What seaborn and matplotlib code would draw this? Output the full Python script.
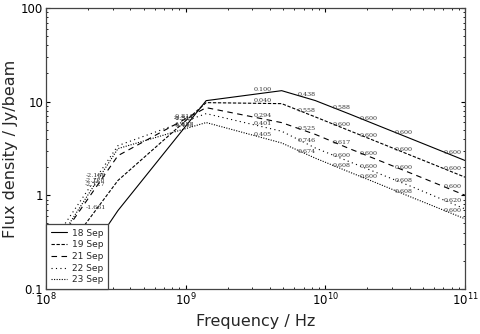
import numpy as np
import pandas as pd
import matplotlib
matplotlib.use("Agg")
import matplotlib.pyplot as plt
import seaborn as sns

# frequencies (GHz) of the model spectrum
freq_ghz = [0.074, 0.327, 1.4, 4.86, 8.46, 15.0, 22.5, 43.0, 100.0]

# flux densities (Jy/beam)
sep18 = [0.026, 0.687, 10.25, 13.1, 10.27, 7.34, 5.75, 3.90, 2.35]
sep19 = [0.074, 1.44, 9.76, 9.52, 6.87, 4.87, 3.82, 2.59, 1.56]
sep21 = [0.109, 2.65, 8.63, 5.97, 4.47, 3.13, 2.46, 1.67, 1.00]
sep22 = [0.129, 3.39, 7.45, 4.83, 3.20, 2.27, 1.78, 1.21, 0.714]
sep23 = [0.103, 3.15, 5.98, 3.62, 2.49, 1.76, 1.38, 0.93, 0.56]

# spectral index labels on each segment
idx18 = ["-2.200", "-1.857", "0.100", "0.438", "0.588", "0.600", "0.600", "0.600"]
idx19 = ["-1.661", "-1.315", "0.040", "0.558", "0.600", "0.600", "0.600", "0.600"]
idx21 = ["-2.127", "-0.811", "0.294", "0.525", "0.617", "0.600", "0.600", "0.600"]
idx22 = ["-2.186", "-0.541", "0.401", "0.746", "0.600", "0.600", "0.608", "0.620"]
idx23 = ["-2.128", "-0.440", "0.405", "0.674", "0.608", "0.600", "0.608", "0.600"]

dates = ["18 Sep", "19 Sep", "21 Sep", "22 Sep", "23 Sep"]
fluxes = [sep18, sep19, sep21, sep22, sep23]
labels = [idx18, idx19, idx21, idx22, idx23]
styles = ["-", (0, (3, 1.5)), (0, (5, 4)), (0, (1, 3)), (0, (1, 1.3))]

sns.set_style("ticks")
plt.rcParams["font.family"] = ["DejaVu Sans"]

fig = plt.figure(figsize=(4.8, 3.34), dpi=100)
ax = fig.add_axes([0.096, 0.135, 0.873, 0.841])

freq_hz = np.array(freq_ghz) * 1e9
for d, s, ls in zip(dates, fluxes, styles):
    sns.lineplot(x=freq_hz, y=s, ax=ax, color="k", linestyle=ls, linewidth=0.8,
                 label=d, sort=False)

ax.set_xscale("log")
ax.set_yscale("log")
ax.set_xlim(1e8, 1e11)
ax.set_ylim(0.1, 100)

# spectral index annotations, 3/4 of the way along each segment
for s, labs in zip(fluxes, labels):
    for i, t in enumerate(labs):
        xm = freq_hz[i] ** 0.25 * freq_hz[i + 1] ** 0.75
        ym = s[i] ** 0.25 * s[i + 1] ** 0.75
        if xm < 1e8:
            continue
        ax.annotate(t, (xm, ym), xytext=(0, 0.5), textcoords="offset points",
                    ha="center", va="bottom", fontsize=4.6, color="#333333",
                    family="DejaVu Serif", zorder=3, annotation_clip=True)

ax.set_yticks([0.1, 1, 10, 100])
ax.set_yticklabels(["0.1", "1", "10", "100"])
ax.tick_params(which="both", direction="in", top=True, right=True,
               labelsize=8.5, colors="k", pad=2)
ax.tick_params(which="major", length=3)
ax.tick_params(which="minor", length=1.5)
for sp in ax.spines.values():
    sp.set_linewidth(0.9)
    sp.set_color("#444444")

ax.set_xlabel("Frequency / Hz", fontsize=11.5, labelpad=4)
ax.set_ylabel("Flux density / Jy/beam", fontsize=11.5, labelpad=2)

leg = ax.legend(loc="lower left", fontsize=6.5, frameon=True, fancybox=False,
                borderaxespad=0, handlelength=1.8, handletextpad=0.6,
                labelspacing=0.3, borderpad=0.5)
leg.get_frame().set_edgecolor("#444444")
leg.get_frame().set_linewidth(0.9)
leg.get_frame().set_alpha(1)
leg.set_zorder(10)

fig.savefig("out.png", dpi=100)
